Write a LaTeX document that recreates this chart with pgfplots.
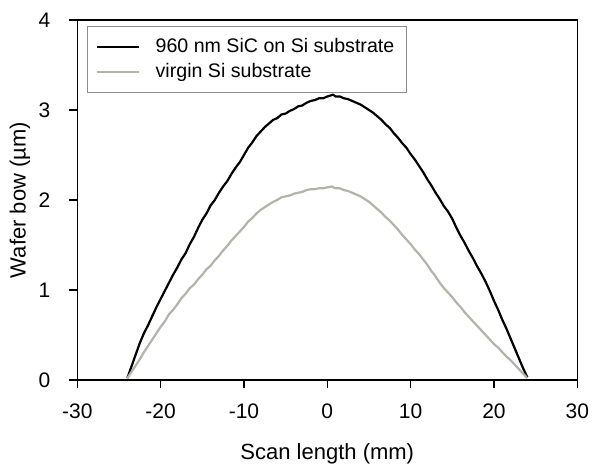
\documentclass[border=0pt]{standalone}
\usepackage{pgfplots}
\pgfplotsset{compat=1.18}
\usepackage{fontspec}
\setmainfont{Liberation Sans}
\definecolor{virgin}{RGB}{178,180,168}
\definecolor{legframe}{RGB}{140,140,140}
\begin{document}
\begin{tikzpicture}
\useasboundingbox (-38.65pt,-44.5pt) rectangle (258.85pt,190pt);
\begin{axis}[
  at={(0,0)}, anchor=south west,
  width=250pt, height=180pt, scale only axis,
  xmin=-30, xmax=30, ymin=0, ymax=4,
  xtick={-30,-20,-10,0,10,20,30},
  ytick={0,1,2,3,4},
  xtick pos=lower, ytick pos=left,
  tick align=outside, major tick length=4pt,
  axis line style={line width=0.75pt},
  every tick/.style={black, line width=0.75pt},
  /pgf/number format/assume math mode=true,
  tick label style={font=\fontsize{10.5}{12}\selectfont},
  xticklabel style={yshift=-4.5pt},
  yticklabel style={xshift=-6pt},
  xlabel={Scan length (mm)},
  ylabel={Wafer bow (µm)},
  label style={font=\fontsize{11}{13}\selectfont},
  xlabel style={at={(axis description cs:0.5,-0.2056)}, anchor=center},
  ylabel style={at={(axis description cs:-0.1147,0.5)}, anchor=center},
  legend style={at={(axis description cs:0.0194,0.9843)}, anchor=north west,
    draw=legframe, line width=0.5pt, fill=white,
    font=\fontsize{9.8}{12}\selectfont,
    inner xsep=4pt, inner ysep=4pt, row sep=0pt,
    cells={anchor=west}},
  legend image code/.code={\draw[#1] (0pt,0pt) -- (21pt,0pt); \path (27pt,0pt);},
]
\addplot[black, line width=1.1pt] coordinates {
(-24,0.02) (-23.5,0.15) (-23,0.28) (-22.5,0.41) (-22,0.52) (-21.5,0.61) (-21,0.71) (-20.5,0.81)
(-20,0.90) (-19.5,0.99) (-19,1.08) (-18.5,1.17) (-18,1.25) (-17.5,1.34) (-17,1.41) (-16.5,1.51)
(-16,1.59) (-15.5,1.69) (-15,1.78) (-14.5,1.85) (-14,1.94) (-13.5,2.00) (-13,2.08) (-12.5,2.15)
(-12,2.21) (-11.5,2.29) (-11,2.36) (-10.5,2.42) (-10,2.50) (-9.5,2.58) (-9,2.64) (-8.5,2.71)
(-8,2.76) (-7.5,2.81) (-7,2.85) (-6.5,2.89) (-6,2.91) (-5.5,2.95) (-5,2.96) (-4.5,2.99)
(-4,3.01) (-3.5,3.04) (-3,3.05) (-2.5,3.08) (-2,3.10) (-1.5,3.11) (-1,3.13) (-0.5,3.13)
(0,3.15) (0.7,3.17) (1,3.15) (1.5,3.15) (2,3.13) (2.5,3.12) (3,3.10) (3.5,3.08)
(4,3.06) (4.5,3.03) (5,3.00) (5.5,2.97) (6,2.93) (6.5,2.89) (7,2.84) (7.5,2.80)
(8,2.74) (8.5,2.69) (9,2.63) (9.5,2.58) (10,2.51) (10.5,2.45) (11,2.38) (11.5,2.31)
(12,2.23) (12.5,2.16) (13,2.08) (13.5,2.01) (14,1.93) (14.5,1.87) (15,1.79) (15.5,1.69)
(16,1.60) (16.5,1.52) (17,1.43) (17.5,1.35) (18,1.26) (18.5,1.18) (19,1.09) (19.5,0.99)
(20,0.88) (20.5,0.78) (21,0.67) (21.5,0.57) (22,0.46) (22.5,0.35) (23,0.24) (23.5,0.13) (24,0.03)
};
\addlegendentry{960 nm SiC on Si substrate}
\addplot[virgin, line width=1.1pt] coordinates {
(-24,0.02) (-23.5,0.09) (-23,0.16) (-22.5,0.23) (-22,0.31) (-21.5,0.38) (-21,0.45) (-20.5,0.52)
(-20,0.59) (-19.5,0.65) (-19,0.73) (-18.5,0.78) (-18,0.84) (-17.5,0.91) (-17,0.96) (-16.5,1.02)
(-16,1.06) (-15.5,1.12) (-15,1.17) (-14.5,1.23) (-14,1.27) (-13.5,1.33) (-13,1.38) (-12.5,1.44)
(-12,1.49) (-11.5,1.55) (-11,1.60) (-10.5,1.65) (-10,1.70) (-9.5,1.76) (-9,1.80) (-8.5,1.85)
(-8,1.89) (-7.5,1.92) (-7,1.95) (-6.5,1.98) (-6,2.00) (-5.5,2.03) (-5,2.04) (-4.5,2.05)
(-4,2.07) (-3.5,2.08) (-3,2.09) (-2.5,2.11) (-2,2.12) (-1.5,2.12) (-1,2.13) (-0.5,2.13)
(0,2.14) (0.5,2.15) (1,2.13) (1.5,2.13) (2,2.11) (2.5,2.10) (3,2.08) (3.5,2.06)
(4,2.04) (4.5,2.01) (5,1.98) (5.5,1.94) (6,1.90) (6.5,1.86) (7,1.81) (7.5,1.77)
(8,1.72) (8.5,1.67) (9,1.61) (9.5,1.56) (10,1.51) (10.5,1.45) (11,1.40) (11.5,1.34)
(12,1.28) (12.5,1.21) (13,1.15) (13.5,1.08) (14,1.02) (14.5,0.97) (15,0.92) (15.5,0.86)
(16,0.81) (16.5,0.75) (17,0.70) (17.5,0.65) (18,0.60) (18.5,0.55) (19,0.50) (19.5,0.45)
(20,0.40) (20.5,0.36) (21,0.31) (21.5,0.26) (22,0.22) (22.5,0.17) (23,0.12) (23.5,0.07) (24,0.02)
};
\addlegendentry{virgin Si substrate}
\end{axis}
\end{tikzpicture}
\end{document}
